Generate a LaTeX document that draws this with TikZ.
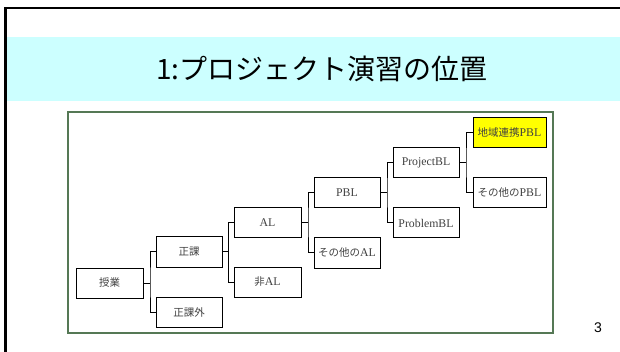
\documentclass[tikz,border=0pt]{standalone}
\usepackage{fontspec}
\setmainfont{Liberation Serif}
\newfontfamily\cjk{Noto Sans CJK JP}
\newfontfamily\pagefont{Liberation Sans}
\usetikzlibrary{calc}
\definecolor{bandcyan}{HTML}{CCFFFF}
\definecolor{framegreen}{RGB}{85,120,85}
\definecolor{hlyellow}{HTML}{FFFF00}
\newcommand\jtext[1]{{\cjk\fontsize{10.5}{12}\selectfont #1}}
\tikzset{
  treebox/.style={draw, line width=1pt, minimum height=30pt, inner sep=0pt,
    font=\fontsize{11.8}{13}\selectfont, text=black!75},
  conn/.style={draw, line width=1pt}
}
\begin{document}
\begin{tikzpicture}[x=1pt,y=-1pt]
\useasboundingbox (0,0) rectangle (620,352);
\fill[bandcyan] (6,37) rectangle (620,101);
\draw[line width=2.5pt] (5.3,352) -- (5.3,8) -- (620,8);
\node (title) at (322,69) {\cjk\fontsize{28}{30}\selectfont 1:プロジェクト演習の位置};
\draw[framegreen, line width=1.5pt] (68,112) rectangle (553,333);
\node (pg) at (598,328) {\pagefont\fontsize{14}{16}\selectfont 3};

\node[treebox, minimum width=67pt] (jugyo) at (109.5,283) {\jtext{授業}};
\node[treebox, minimum width=66pt] (seika) at (189,252) {\jtext{正課}};
\node[treebox, minimum width=66pt] (seikagai) at (189,312.5) {\jtext{正課外}};
\node[treebox, minimum width=67pt] (al) at (267.5,222.5) {AL};
\node[treebox, minimum width=67pt] (hial) at (267.5,282) {\jtext{非}AL};
\node[treebox, minimum width=66pt] (pbl) at (347,193) {PBL};
\node[treebox, minimum width=66pt] (sonotaal) at (347,253) {\jtext{その他の}AL};
\node[treebox, minimum width=66pt] (project) at (426,163) {ProjectBL};
\node[treebox, minimum width=66pt] (problem) at (426,223) {ProblemBL};
\node[treebox, minimum width=73pt, fill=hlyellow] (chiiki) at (509.5,133) {\jtext{地域連携}PBL};
\node[treebox, minimum width=73pt] (sonotapbl) at (509.5,193) {\jtext{その他の}PBL};

\draw[conn] (jugyo.east) -- ++(6.5,0);
\draw[conn] (seika.west) -| ($(jugyo.east)+(6.5,0)$) |- (seikagai.west);
\draw[conn] (seika.east) -- ++(6.2,0);
\draw[conn] (al.west) -| ($(seika.east)+(6.2,0)$) |- (hial.west);
\draw[conn] (al.east) -- ++(6.5,0);
\draw[conn] (pbl.west) -| ($(al.east)+(6.5,0)$) |- (sonotaal.west);
\draw[conn] (pbl.east) -- ++(6.5,0);
\draw[conn] (project.west) -| ($(pbl.east)+(6.5,0)$) |- (problem.west);
\draw[conn] (project.east) -- ++(6.5,0);
\draw[conn] (chiiki.west) -| ($(project.east)+(6.5,0)$) |- (sonotapbl.west);
\end{tikzpicture}
\end{document}
